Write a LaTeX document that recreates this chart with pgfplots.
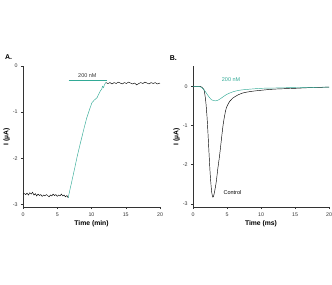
\documentclass[border=0pt]{standalone}
\usepackage{pgfplots}
\pgfplotsset{compat=1.18}
\usepackage{fontspec}
\setmainfont{Liberation Sans}
\definecolor{teal2}{RGB}{50,170,150}
\begin{document}
\begin{tikzpicture}
\path[use as bounding box] (0pt,0pt) rectangle (332pt,284pt);
\pgfplotsset{
  every axis/.append style={
    scale only axis,
    axis x line*=bottom, axis y line*=left,
    axis line style={-, line width=0.45pt, black!80},
    tick align=outside, major tick length=2pt,
    tick style={black!80, line width=0.45pt},
    /pgf/number format/assume math mode=true,
    tick label style={font=\fontsize{5.3}{6}\selectfont, black!80},
    label style={font=\fontsize{6.8}{7}\selectfont\bfseries},
    xmin=0, xmax=20, xtick={0,5,10,15,20},
    ytick={-3,-2,-1,0},
    xlabel shift=-3pt, ylabel shift=-4pt,
    clip=false,
  }
}
% Panel A
\begin{axis}[at={(23pt,77pt)}, anchor=south west, width=137pt, height=141pt,
  ymin=-3.06, ymax=0,
  xlabel={Time (min)}, ylabel={I (\textmu A)}]
\addplot[black, line width=0.45pt] coordinates {
(0,-2.78)(0.2,-2.77)(0.4,-2.79)(0.6,-2.76)(0.8,-2.8)(1.0,-2.75)(1.2,-2.78)(1.4,-2.74)(1.6,-2.8)(1.8,-2.77)(2.0,-2.82)(2.2,-2.78)(2.4,-2.81)(2.6,-2.79)(2.8,-2.83)(3.0,-2.8)(3.2,-2.82)(3.4,-2.79)(3.6,-2.81)(3.8,-2.84)(4.0,-2.8)(4.2,-2.82)(4.4,-2.78)(4.6,-2.81)(4.8,-2.79)(5.0,-2.83)(5.2,-2.8)(5.4,-2.82)(5.6,-2.78)(5.8,-2.82)(6.0,-2.8)(6.2,-2.84)(6.4,-2.81)(6.6,-2.86)};
\addplot[teal2, line width=0.45pt] coordinates {
(6.6,-2.86)(6.8,-2.72)(7.1,-2.52)(7.5,-2.25)(7.9,-1.97)(8.3,-1.72)(8.6,-1.54)(9.0,-1.3)(9.3,-1.13)(9.7,-0.95)(10.05,-0.8)(10.4,-0.74)(10.8,-0.69)(11.1,-0.6)(11.3,-0.54)(11.5,-0.5)(11.6,-0.44)(11.75,-0.47)(11.9,-0.4)(12.1,-0.36)};
\addplot[black, line width=0.45pt] coordinates {
(12.1,-0.36)(12.4,-0.38)(12.7,-0.36)(13.0,-0.39)(13.3,-0.36)(13.6,-0.38)(13.9,-0.35)(14.2,-0.37)(14.5,-0.39)(14.8,-0.36)(15.1,-0.38)(15.4,-0.35)(15.7,-0.37)(16.0,-0.39)(16.3,-0.37)(16.6,-0.41)(16.9,-0.38)(17.2,-0.36)(17.5,-0.38)(17.8,-0.35)(18.1,-0.37)(18.4,-0.39)(18.7,-0.36)(19.0,-0.38)(19.3,-0.36)(19.6,-0.39)(20.0,-0.37)};
\addplot[teal2, line width=1.4pt] coordinates {(6.65,-0.32)(12.2,-0.32)};
\node[font=\fontsize{5.5}{6}\selectfont, black!80] at (axis cs:9.4,-0.21) {200 nM};
\node[font=\fontsize{7}{8}\selectfont\bfseries] at (axis cs:-2.1,0.19) {A.};
\end{axis}
% Panel B
\begin{axis}[at={(193pt,77pt)}, anchor=south west, width=136pt, height=141pt,
  ymin=-3.08, ymax=0.52,
  xlabel={Time (ms)}, ylabel={I (\textmu A)}]
\addplot[black, line width=0.45pt, smooth] coordinates {
(0,0)(0.5,0)(1.0,0)(1.3,-0.02)(1.6,-0.08)(1.85,-0.34)(2.05,-0.75)(2.2,-1.19)(2.4,-1.85)(2.55,-2.3)(2.75,-2.7)(2.93,-2.83)(3.1,-2.75)(3.4,-2.46)(3.65,-2.1)(3.9,-1.78)(4.15,-1.4)(4.4,-1.02)(4.65,-0.75)(4.9,-0.55)(5.4,-0.38)(5.85,-0.3)(6.5,-0.23)(7.3,-0.17)(8.5,-0.13)(10,-0.1)(12,-0.07)(15,-0.05)(17.5,-0.03)(20,-0.02)};
\addplot[teal2, line width=0.45pt, smooth] coordinates {
(0,0)(0.8,0)(1.2,-0.02)(1.6,-0.08)(1.95,-0.17)(2.4,-0.28)(2.8,-0.35)(3.27,-0.37)(3.6,-0.36)(3.9,-0.33)(4.4,-0.27)(4.9,-0.21)(5.85,-0.14)(6.8,-0.1)(7.8,-0.08)(10,-0.05)(12.5,-0.04)(15,-0.03)(20,-0.02)};
\node[font=\fontsize{5.5}{6}\selectfont, teal2] at (axis cs:5.6,0.16) {200 nM};
\node[font=\fontsize{5.5}{6}\selectfont, black] at (axis cs:5.8,-2.72) {Control};
\node[font=\fontsize{7}{8}\selectfont\bfseries] at (axis cs:-2.9,0.73) {B.};
\end{axis}
\end{tikzpicture}
\end{document}
